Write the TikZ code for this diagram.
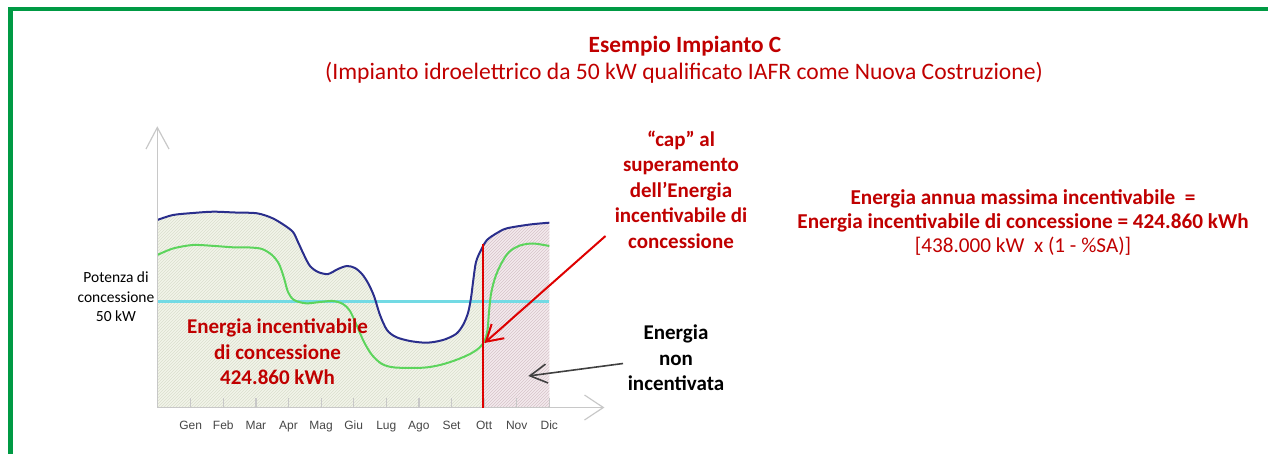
\documentclass[tikz,border=0pt]{standalone}
\usepackage{fontspec}
\setmainfont{Carlito}
\newfontfamily\arialf{Liberation Sans}
\usetikzlibrary{arrows.meta,patterns}
\definecolor{tred}{RGB}{192,0,0}
\definecolor{lred}{RGB}{222,0,0}
\definecolor{bgreen}{RGB}{0,154,68}
\definecolor{navy}{RGB}{42,46,140}
\definecolor{lgreen}{RGB}{92,212,92}
\definecolor{cyanl}{RGB}{115,218,228}
\definecolor{axisgray}{RGB}{200,200,200}
\definecolor{hatchG}{RGB}{218,223,205}
\definecolor{bgG}{RGB}{242,244,234}
\definecolor{hatchP}{RGB}{214,196,201}
\definecolor{bgP}{RGB}{244,234,237}
\definecolor{monthgray}{RGB}{70,70,70}
\definecolor{arrgray}{RGB}{64,64,64}
\tikzset{
  redbig/.style={text=tred, font=\bfseries\fontsize{21}{25.5}\selectfont, align=center, inner sep=0pt},
  month/.style={text=monthgray, font=\arialf\fontsize{12}{14}\selectfont, inner sep=0pt, anchor=base},
  axisline/.style={axisgray, line width=1.2pt},
}
\begin{document}
\begin{tikzpicture}[x=1pt,y=-1pt]
\useasboundingbox (0,0) rectangle (1268,454);
% border
\draw[bgreen, line width=4.2pt] (10.5,454) -- (10.5,8.7) -- (1268,8.7);
% titles
\node[text=tred, font=\bfseries\fontsize{23.3}{27}\selectfont, inner sep=0pt] (title) at (685,46) {Esempio Impianto C};
\node[text=tred, font=\fontsize{23.6}{27}\selectfont, inner sep=0pt] (subtitle) at (684,73) {(Impianto idroelettrico da 50 kW qualificato IAFR come Nuova Costruzione)};
% fills
\begin{scope}
\clip (157.3,100) rectangle (483.3,407.5);
\fill[bgG] (157.3,407.5) -- plot[smooth] coordinates {(157.3,220) (173,215) (193,213) (213,211.7) (235,212.5) (257,213.3) (272,218) (284,225) (293,232) (298,242) (304,255) (310,266) (318,272) (328,274) (338,269) (347,266) (355,268) (362,274) (368,283) (374,296) (380,315) (387,330) (396,337) (410,341) (427,342.7) (443,340) (456,334) (463,325) (468,313) (471,298) (473.3,280) (476,262) (481,250) (487,240) (497,233) (507,228.3) (530,224.5) (549.3,222.7)} -- (549.3,407.5) -- cycle;
\fill[pattern=north east lines, pattern color=hatchG] (157.3,407.5) -- plot[smooth] coordinates {(157.3,220) (173,215) (193,213) (213,211.7) (235,212.5) (257,213.3) (272,218) (284,225) (293,232) (298,242) (304,255) (310,266) (318,272) (328,274) (338,269) (347,266) (355,268) (362,274) (368,283) (374,296) (380,315) (387,330) (396,337) (410,341) (427,342.7) (443,340) (456,334) (463,325) (468,313) (471,298) (473.3,280) (476,262) (481,250) (487,240) (497,233) (507,228.3) (530,224.5) (549.3,222.7)} -- (549.3,407.5) -- cycle;
\end{scope}
\begin{scope}
\clip (483.3,100) rectangle (549.3,407.5);
\fill[bgP] (157.3,407.5) -- plot[smooth] coordinates {(157.3,220) (173,215) (193,213) (213,211.7) (235,212.5) (257,213.3) (272,218) (284,225) (293,232) (298,242) (304,255) (310,266) (318,272) (328,274) (338,269) (347,266) (355,268) (362,274) (368,283) (374,296) (380,315) (387,330) (396,337) (410,341) (427,342.7) (443,340) (456,334) (463,325) (468,313) (471,298) (473.3,280) (476,262) (481,250) (487,240) (497,233) (507,228.3) (530,224.5) (549.3,222.7)} -- (549.3,407.5) -- cycle;
\fill[pattern=north east lines, pattern color=hatchP] (157.3,407.5) -- plot[smooth] coordinates {(157.3,220) (173,215) (193,213) (213,211.7) (235,212.5) (257,213.3) (272,218) (284,225) (293,232) (298,242) (304,255) (310,266) (318,272) (328,274) (338,269) (347,266) (355,268) (362,274) (368,283) (374,296) (380,315) (387,330) (396,337) (410,341) (427,342.7) (443,340) (456,334) (463,325) (468,313) (471,298) (473.3,280) (476,262) (481,250) (487,240) (497,233) (507,228.3) (530,224.5) (549.3,222.7)} -- (549.3,407.5) -- cycle;
\end{scope}
% concession power line
\draw[cyanl, line width=3pt] (157.3,301.5) -- (549.3,301.5);
% curves
\draw[navy, line width=2pt] plot[smooth] coordinates {(157.3,220) (173,215) (193,213) (213,211.7) (235,212.5) (257,213.3) (272,218) (284,225) (293,232) (298,242) (304,255) (310,266) (318,272) (328,274) (338,269) (347,266) (355,268) (362,274) (368,283) (374,296) (380,315) (387,330) (396,337) (410,341) (427,342.7) (443,340) (456,334) (463,325) (468,313) (471,298) (473.3,280) (476,262) (481,250) (487,240) (497,233) (507,228.3) (530,224.5) (549.3,222.7)};
\draw[lgreen, line width=2pt] plot[smooth] coordinates {(157.3,255) (173,248.5) (193,245) (215,246) (233,247.3) (250,247.5) (262,249) (272,255) (279,264) (284,278) (288,292) (294,300) (306,303.3) (320,302) (333,301) (343,304) (350,311) (357,326) (364,342) (372,355) (382,364) (395,367.5) (423,367.7) (440,365) (456,360) (470,354) (479,348) (484.5,341) (487.5,330) (489,312) (491,294) (495,278) (501,264) (509,252) (520,245.5) (533,243.5) (549.3,246)};
% axes
\draw[axisline] (157.3,127.5) -- (157.3,407.5) -- (603.3,407.5);
\draw[axisline] (146,149) -- (157.3,127.5) -- (169,149);
\draw[axisline] (584.5,395) -- (603.3,407.5) -- (584.5,420);
\foreach \mx/\mn in {190.7/Gen,223.3/Feb,255.9/Mar,288.5/Apr,321.1/Mag,353.7/Giu,386.3/Lug,418.9/Ago,451.5/Set,484.1/Ott,516.7/Nov,549.3/Dic}{
  \draw[axisline] (\mx,398) -- (\mx,407.5);
  \node[month] (m\mn) at (\mx,429.5) {\mn};
}
% cap line
\coordinate (capTop) at (483.3,244);
\coordinate (capBot) at (483.3,407.5);
\draw[lred, line width=2pt] (capTop) -- (capBot);
% labels
\node[text=black, font=\fontsize{15.5}{19.5}\selectfont, align=center, inner sep=0pt] (potenza) at (116,297) {Potenza di\\concessione\\50 kW};
\node[redbig] (energiaInc) at (277.5,352) {Energia incentivabile\\di concessione\\424.860 kWh};
\node[redbig] (cap) at (681,189.5) {“cap” al\\superamento\\dell’Energia\\incentivabile di\\concessione};
\node[text=black, font=\bfseries\fontsize{21}{25.5}\selectfont, align=center, inner sep=0pt] (nonInc) at (676,358) {Energia\\non\\incentivata};
\node[text=tred, font=\fontsize{21.2}{24}\selectfont, align=center, inner sep=0pt] (formula) at (1023,223) {\textbf{Energia annua massima incentivabile\ \ =}\\\textbf{Energia incentivabile di concessione = 424.860 kWh}\\{}[438.000 kW\ \ x (1 - \%SA)]};
% arrows
\coordinate (capTail) at (605.5,236);
\coordinate (capTip) at (484.5,343);
\draw[lred, line width=2pt, -{Straight Barb[length=16pt,width=19pt]}] (capTail) -- (capTip);
\coordinate (nonTail) at (623,363.5);
\coordinate (nonTip) at (528.3,376);
\draw[arrgray, line width=1.6pt, -{Straight Barb[length=17pt,width=19pt]}] (nonTail) -- (nonTip);
\end{tikzpicture}
\end{document}
